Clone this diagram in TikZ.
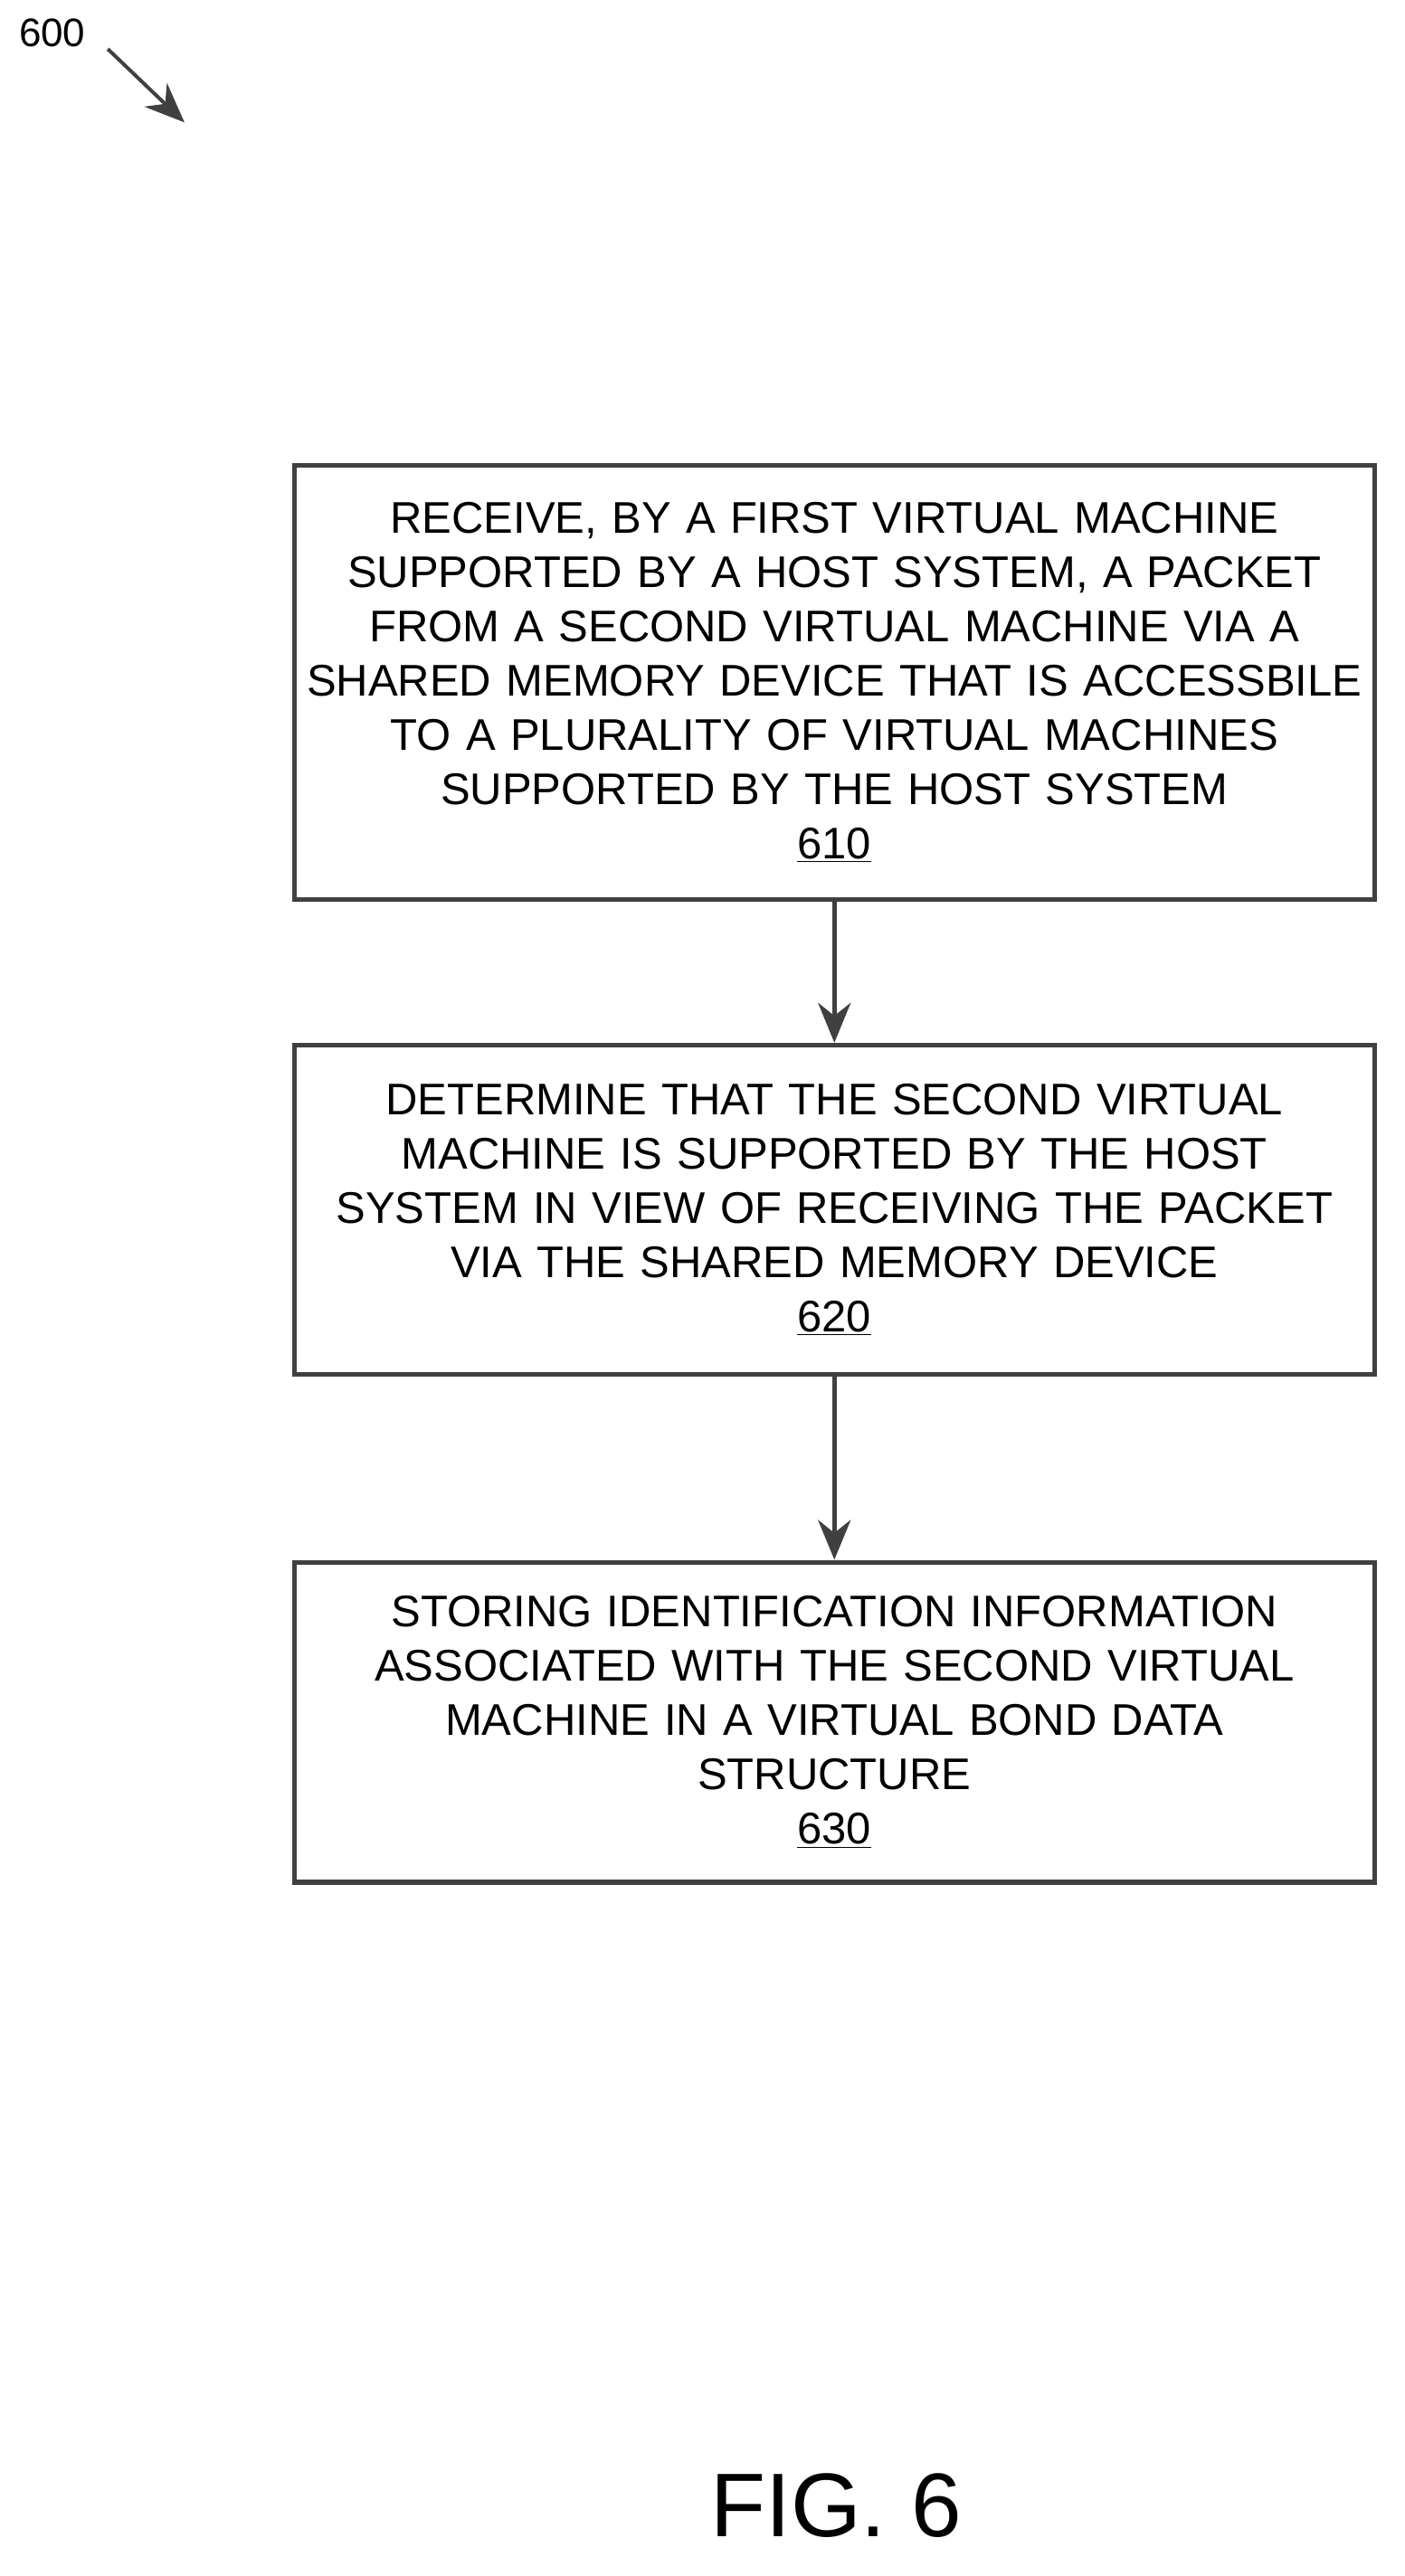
\documentclass[tikz,border=0pt]{standalone}
\usepackage{fontspec}
\setmainfont{Liberation Sans}
\usetikzlibrary{arrows.meta}
\begin{document}
\begin{tikzpicture}[x=0.9025pt,y=-0.9025pt,
    stepbox/.style={draw=black!75,line width=2.6pt,text width=590pt,align=center,
      minimum width=597pt,inner sep=0pt,font=\fontsize{24.5}{30}\selectfont},
    flow/.style={draw=black!75,line width=2.6pt,-{Stealth[length=22pt,width=18pt]}}]
  \useasboundingbox (0,0) rectangle (860,1578);
  \node[font=\fontsize{22}{26}\selectfont] (fig) at (32,20) {600};
  \coordinate (figtip) at (113,75);
  \draw[flow,line width=2pt] (66,30) -- (figtip);
  \node[stepbox,minimum height=240pt] (recv) at (511,418)
    {RECEIVE, BY A FIRST VIRTUAL MACHINE\\ SUPPORTED BY A HOST SYSTEM, A PACKET\\
     FROM A SECOND VIRTUAL MACHINE VIA A\\ SHARED MEMORY DEVICE THAT IS ACCESSBILE\\
     TO A PLURALITY OF VIRTUAL MACHINES\\ SUPPORTED BY THE HOST SYSTEM\\ \underline{610}};
  \node[stepbox,minimum height=182pt] (determine) at (511,741)
    {DETERMINE THAT THE SECOND VIRTUAL\\ MACHINE IS SUPPORTED BY THE HOST\\
     SYSTEM IN VIEW OF RECEIVING THE PACKET\\ VIA THE SHARED MEMORY DEVICE\\ \underline{620}};
  \node[stepbox,minimum height=177pt] (store) at (511,1055)
    {STORING IDENTIFICATION INFORMATION\\ ASSOCIATED WITH THE SECOND VIRTUAL\\
     MACHINE IN A VIRTUAL BOND DATA\\ STRUCTURE\\ \underline{630}};
  \draw[flow] (recv) -- (determine);
  \draw[flow] (determine) -- (store);
  \node[font=\fontsize{50}{56}\selectfont] (caption) at (512,1535) {FIG. 6};
\end{tikzpicture}
\end{document}
